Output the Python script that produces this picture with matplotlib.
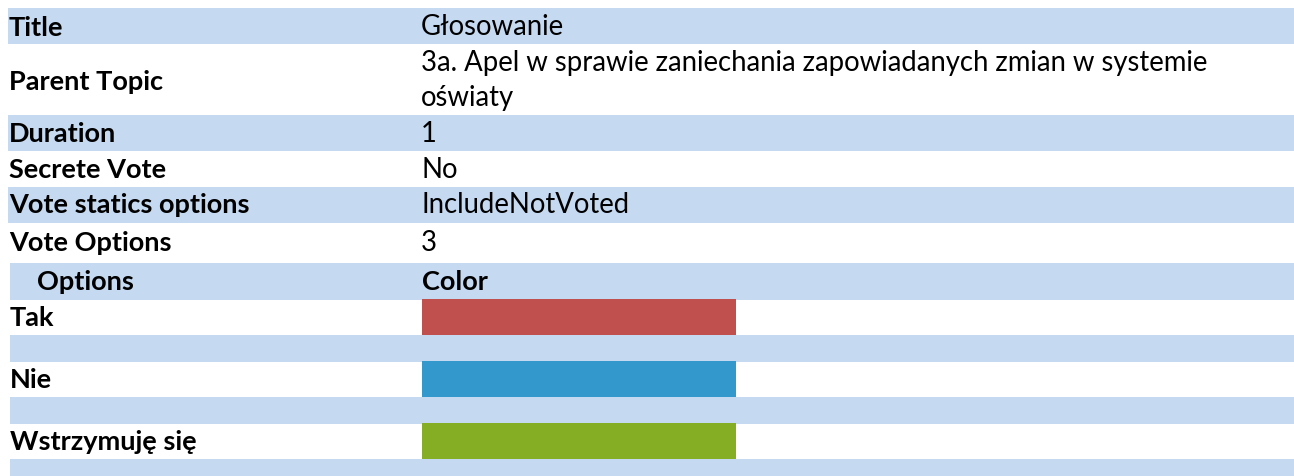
import matplotlib.pyplot as plt
from matplotlib.patches import Rectangle

# table content
field_names = ["Title", "Parent Topic", "Duration", "Secrete Vote",
               "Vote statics options", "Vote Options"]
field_values = ["Głosowanie",
                "3a. Apel w sprawie zaniechania zapowiadanych zmian w systemie\noświaty",
                "1", "No", "IncludeNotVoted", "3"]
option_names = ["Tak", "Nie", "Wstrzymuję się"]
option_colors = ["#C0504D", "#3399CC", "#86AE24"]

band = "#C5D9F1"
W, H = 1294, 476

plt.rcParams['font.family'] = ['Lato', 'DejaVu Sans']
fig = plt.figure(figsize=(W / 100, H / 100), dpi=100)
ax = fig.add_axes([0, 0, 1, 1])
ax.set_xlim(0, W)
ax.set_ylim(H, 0)
ax.axis('off')

# row geometry: top, bottom, label baseline, value baselines
rows = [(8, 44, 36, [35]), (44, 115, 90, [71, 106]), (115, 151, 142, [142]),
        (151, 187, 178, [178]), (187, 223, 213, [213]), (223, 263, 251, [251])]
fs_b = 19.5
fs_r = 19.8

for i, (name, val) in enumerate(zip(field_names, field_values)):
    top, bot, lb, bases = rows[i]
    if i % 2 == 0:
        ax.add_patch(Rectangle((8, top), W - 8, bot - top, color=band, lw=0))
    ax.text(9, lb, name, fontsize=fs_b, fontweight='bold', va='baseline')
    for line, b in zip(val.split("\n"), bases):
        ax.text(421, b, line, fontsize=fs_r, va='baseline')

# options header
ax.add_patch(Rectangle((10, 263), W - 10, 37, color=band, lw=0))
ax.text(37, 290, "Options", fontsize=fs_b, fontweight='bold', va='baseline')
ax.text(422, 290, "Color", fontsize=fs_b, fontweight='bold', va='baseline')

# options rows
for j, (opt, col) in enumerate(zip(option_names, option_colors)):
    top = 300 + j * 62
    ax.text(10, top + 26, opt, fontsize=fs_b, fontweight='bold', va='baseline')
    ax.add_patch(Rectangle((422, top - 1), 314, 36, color=col, lw=0))
    ax.add_patch(Rectangle((10, top + 35), W - 10, 27 if j < 2 else 20,
                           color=band, lw=0))

fig.savefig("out.png", dpi=100)
